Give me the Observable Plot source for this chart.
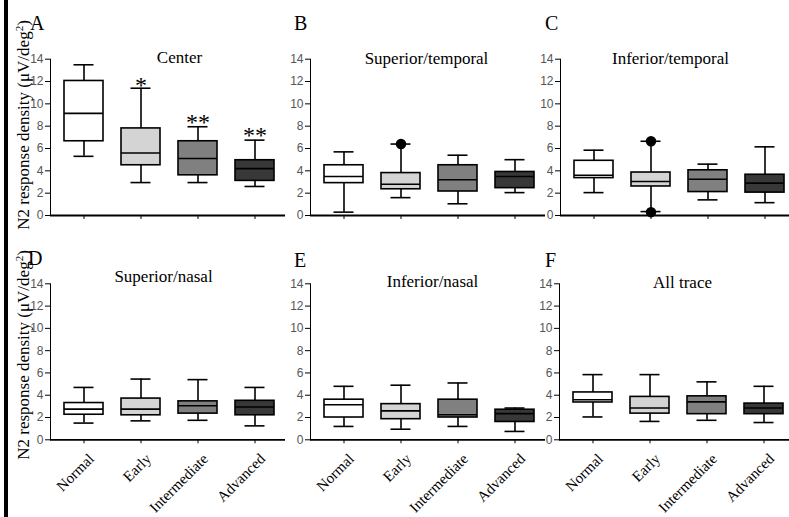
<!DOCTYPE html>
<html>
<head>
<meta charset="utf-8">
<script src="https://cdn.jsdelivr.net/npm/d3@7"></script>
<script src="https://cdn.jsdelivr.net/npm/@observablehq/plot@0.6"></script>
<style>
  body { margin: 0; background: #fff; }
  #chart { position: relative; width: 789px; height: 517px; overflow: hidden; background: #fff; font-family: "Liberation Serif", "Times New Roman", serif; color: #000; }
  .panel { position: absolute; }
  .letter { position: absolute; font-size: 20px; line-height: 20px; }
  .ylab { position: absolute; width: 240px; height: 18px; line-height: 18px; font-size: 17px; text-align: center; transform: rotate(-90deg); white-space: nowrap; }
  .ylab sup { font-size: 11px; vertical-align: 6px; line-height: 0; }
  #chart [aria-label^="y-axis"] text { fill: #555; }
  .bar { position: absolute; left: 4px; top: 0; width: 4px; height: 517px; background: #000; }
</style>
</head>
<body>
<div id="chart"></div>
<script>
// ---------- data ----------
const groups = ["Normal", "Early", "Intermediate", "Advanced"];
const yTicks = [0, 2, 4, 6, 8, 10, 12, 14];
const panelTitles = ["Center", "Superior/temporal", "Inferior/temporal", "Superior/nasal", "Inferior/nasal", "All trace"];
const panelLetters = ["A", "B", "C", "D", "E", "F"];

// five-number summaries per group: [min, q1, median, q3, max]
const centerStats = [
  [5.3, 6.65, 9.15, 12.05, 13.5],
  [2.95, 4.5, 5.6, 7.8, 11.4],
  [2.95, 3.6, 5.1, 6.65, 7.95],
  [2.6, 3.1, 4.2, 4.95, 6.75]
];
const supTempStats = [
  [0.3, 2.9, 3.5, 4.5, 5.7],
  [1.6, 2.35, 2.8, 3.8, 6.4],
  [1.05, 2.15, 3.2, 4.5, 5.4],
  [2.05, 2.45, 3.5, 3.9, 5.0]
];
const infTempStats = [
  [2.05, 3.35, 3.6, 4.9, 5.85],
  [0.35, 2.6, 3.05, 3.85, 6.65],
  [1.4, 2.1, 3.25, 4.05, 4.6],
  [1.15, 2.05, 2.9, 3.65, 6.15]
];
const supNasalStats = [
  [1.5, 2.25, 2.75, 3.3, 4.7],
  [1.7, 2.2, 2.75, 3.7, 5.45],
  [1.75, 2.35, 3.05, 3.45, 5.4],
  [1.25, 2.2, 2.95, 3.5, 4.7]
];
const infNasalStats = [
  [1.2, 2.0, 3.15, 3.6, 4.8],
  [0.95, 1.85, 2.6, 3.2, 4.9],
  [1.2, 2.0, 2.25, 3.6, 5.1],
  [0.75, 1.6, 2.35, 2.7, 2.85]
];
const allTraceStats = [
  [2.05, 3.35, 3.6, 4.25, 5.85],
  [1.65, 2.35, 2.85, 3.85, 5.85],
  [1.75, 2.3, 3.4, 3.9, 5.2],
  [1.55, 2.3, 2.85, 3.25, 4.8]
];

// outliers (filled dots)
const outlierPanels = ["Superior/temporal", "Inferior/temporal", "Inferior/temporal"];
const outlierGroups = ["Early", "Early", "Early"];
const outlierValues = [6.4, 6.65, 0.3];

// significance marks (Center panel)
const starGroups = ["Early", "Intermediate", "Advanced"];
const starValues = [12.1, 8.8, 7.6];
const starLabels = ["*", "**", "**"];

// ---------- styles / layout ----------
const fills = ["#ffffff", "#d4d4d4", "#808080", "#383838"];
const allStats = [centerStats, supTempStats, infTempStats, supNasalStats, infNasalStats, allTraceStats];
const layout = [
  {left: 10,  top: 0,   row: 0, titleDx: 11.5, titleDy: -8},
  {left: 270, top: 0,   row: 0, titleDx: -1.5, titleDy: -7},
  {left: 520, top: 0,   row: 0, titleDx: -7.5, titleDy: -7},
  {left: 10,  top: 240, row: 1, titleDx: -4.5, titleDy: -14},
  {left: 270, top: 240, row: 1, titleDx: 4.5,  titleDy: -8.5},
  {left: 519, top: 240, row: 1, titleDx: 5.5,  titleDy: -8}
];
const letterPos = [[30, 13], [294, 13], [545, 13], [28, 248], [294, 250], [545, 250]];
const ML = 40, FW = 235, MR = 5;
const rowDims = [
  {height: 240, marginTop: 58.7, marginBottom: 25},
  {height: 277, marginTop: 43.3, marginBottom: 77.7}
];
const serif = "Liberation Serif, Times New Roman, serif";
const sw = 1.6;

const chart = document.getElementById("chart");
const bar = document.createElement("div");
bar.className = "bar";
chart.appendChild(bar);

allStats.forEach((stats, p) => {
  const L = layout[p];
  const dims = rowDims[L.row];
  const rows = groups.map((g, i) => ({
    group: g, min: stats[i][0], q1: stats[i][1], med: stats[i][2], q3: stats[i][3], max: stats[i][4]
  }));
  const outs = outlierValues
    .map((v, i) => ({panel: outlierPanels[i], group: outlierGroups[i], value: v}))
    .filter(d => d.panel === panelTitles[p]);
  const marks = [
    Plot.ruleY([0], {stroke: "#000", strokeWidth: 1.8}),
    Plot.ruleX(rows, {x: "group", y1: "min", y2: "q1", stroke: "#000", strokeWidth: sw}),
    Plot.ruleX(rows, {x: "group", y1: "q3", y2: "max", stroke: "#000", strokeWidth: sw}),
    Plot.tickY(rows, {x: "group", y: "min", stroke: "#000", strokeWidth: sw, insetLeft: 9.5, insetRight: 9.5}),
    Plot.tickY(rows, {x: "group", y: "max", stroke: "#000", strokeWidth: sw, insetLeft: 9.5, insetRight: 9.5}),
    Plot.barY(rows, {x: "group", y1: "q1", y2: "q3", fill: "group", stroke: "#000", strokeWidth: sw}),
    Plot.tickY(rows, {x: "group", y: "med", stroke: "#000", strokeWidth: sw}),
    Plot.dot(outs, {x: "group", y: "value", r: 4.5, fill: "#000", stroke: "#000"}),
    Plot.text([panelTitles[p]], {text: d => d, frameAnchor: "top", dx: L.titleDx, dy: L.titleDy, fontSize: 17, fontFamily: serif, fill: "#000"})
  ];
  if (p === 0) {
    const stars = starGroups.map((g, i) => ({group: g, value: starValues[i], label: starLabels[i]}));
    marks.push(Plot.text(stars, {x: "group", y: "value", text: "label", fontSize: 24, fontFamily: serif, dy: 5, fill: "#000"}));
  }
  if (L.row === 1) {
    marks.push(Plot.text(groups, {x: d => d, text: d => d, frameAnchor: "bottom", rotate: -45, textAnchor: "end", dx: 11, dy: 20, fontSize: 15, fontFamily: serif, fill: "#000"}));
  }
  const svg = Plot.plot({
    width: ML + FW + MR,
    height: dims.height,
    marginLeft: ML,
    marginRight: MR,
    marginTop: dims.marginTop,
    marginBottom: dims.marginBottom,
    style: {background: "transparent", fontFamily: "Liberation Sans, Arial, sans-serif", fontSize: "12px", overflow: "visible", color: "#000"},
    x: {type: "band", domain: groups, range: [ML + 4.25, ML + 234.25], paddingInner: 0.32, paddingOuter: 0.16, tickSize: 4, tickFormat: () => "", label: null},
    y: {domain: [0, 14], ticks: yTicks, tickSize: 5, tickPadding: 2, line: true, label: null},
    color: {domain: groups, range: fills},
    marks
  });
  const wrap = document.createElement("div");
  wrap.className = "panel";
  wrap.style.left = L.left + "px";
  wrap.style.top = L.top + "px";
  wrap.style.width = (ML + FW + MR) + "px";
  wrap.style.height = dims.height + "px";
  wrap.appendChild(svg);
  chart.appendChild(wrap);
});

panelLetters.forEach((t, i) => {
  const d = document.createElement("div");
  d.className = "letter";
  d.style.left = letterPos[i][0] + "px";
  d.style.top = letterPos[i][1] + "px";
  d.textContent = t;
  chart.appendChild(d);
});

[125, 355].forEach(cy => {
  const d = document.createElement("div");
  d.className = "ylab";
  d.style.left = (24 - 120) + "px";
  d.style.top = (cy - 9) + "px";
  d.innerHTML = "N2 response density (\u03bcV/deg<sup>2</sup>)";
  chart.appendChild(d);
});
</script>
</body>
</html>
